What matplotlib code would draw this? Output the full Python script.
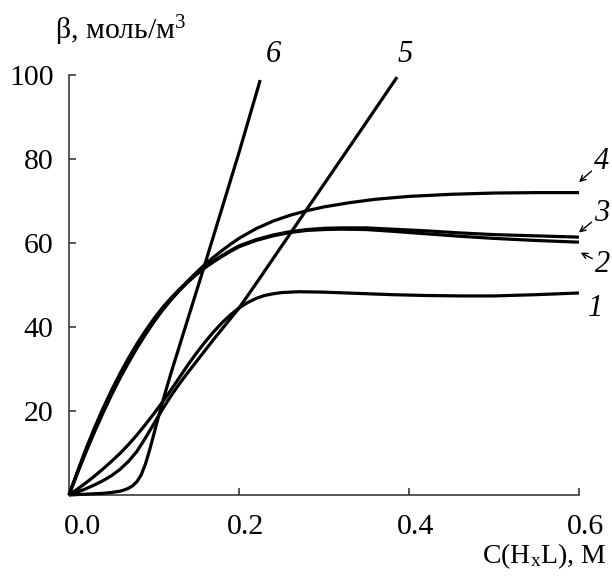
import matplotlib
matplotlib.use("Agg")
import matplotlib.pyplot as plt
from matplotlib.transforms import ScaledTranslation

plt.rcParams["font.family"] = ["Liberation Serif", "DejaVu Serif"]
plt.rcParams["mathtext.fontset"] = "custom"
plt.rcParams["mathtext.rm"] = "Liberation Serif"
plt.rcParams["mathtext.it"] = "Liberation Serif:italic"

# Ligand concentration, M, and beta, mol/m^3, for each curve
x1 = [0, 0.01, 0.02, 0.03, 0.04, 0.05, 0.06, 0.07, 0.08, 0.09, 0.10, 0.11,
      0.12, 0.13, 0.14, 0.15, 0.16, 0.17, 0.18, 0.19, 0.20, 0.21, 0.22, 0.23,
      0.24, 0.25, 0.27, 0.30, 0.34, 0.38, 0.42, 0.46, 0.50, 0.55, 0.60]
y1 = [0, 1.4, 2.9, 4.5, 6.2, 8.0, 9.9, 12.0, 14.3, 16.8, 19.4, 22.1,
      25.0, 28.0, 31.0, 33.8, 36.4, 38.8, 41.0, 42.9, 44.5, 45.8, 46.8, 47.5,
      47.9, 48.2, 48.4, 48.3, 48.0, 47.7, 47.5, 47.4, 47.4, 47.7, 48.1]

x2 = [0, 0.01, 0.02, 0.03, 0.04, 0.05, 0.06, 0.07, 0.08, 0.09, 0.10, 0.11,
      0.12, 0.13, 0.14, 0.15, 0.16, 0.17, 0.18, 0.19, 0.20, 0.22, 0.24, 0.26,
      0.28, 0.30, 0.32, 0.35, 0.38, 0.42, 0.46, 0.50, 0.55, 0.60]
y2 = [0, 5.4, 10.6, 15.5, 20.0, 24.3, 28.3, 32.0, 35.4, 38.6, 41.5, 44.1,
      46.5, 48.7, 50.7, 52.5, 54.1, 55.5, 56.8, 58.0, 59.1, 60.6, 61.7, 62.5,
      63.0, 63.2, 63.3, 63.2, 62.8, 62.2, 61.6, 61.1, 60.6, 60.2]

x3 = x2
y3 = [0, 5.6, 11.0, 16.0, 20.6, 24.9, 28.9, 32.6, 36.0, 39.1, 42.0, 44.6,
      46.9, 49.0, 50.9, 52.7, 54.3, 55.7, 57.0, 58.2, 59.3, 60.8, 61.9, 62.7,
      63.2, 63.5, 63.6, 63.6, 63.3, 62.9, 62.4, 62.0, 61.7, 61.4]

x4 = [0, 0.01, 0.02, 0.03, 0.04, 0.05, 0.06, 0.07, 0.08, 0.09, 0.10, 0.11,
      0.12, 0.13, 0.14, 0.15, 0.16, 0.17, 0.18, 0.19, 0.20, 0.22, 0.24, 0.26,
      0.28, 0.30, 0.33, 0.36, 0.40, 0.45, 0.50, 0.55, 0.60]
y4 = [0, 5.2, 10.2, 15.0, 19.5, 23.8, 27.8, 31.5, 35.0, 38.2, 41.2, 44.0,
      46.5, 48.8, 51.0, 53.0, 54.9, 56.6, 58.2, 59.7, 61.1, 63.4, 65.2, 66.6,
      67.7, 68.6, 69.6, 70.4, 71.1, 71.6, 71.9, 72.0, 72.0]

x5 = [0, 0.01, 0.02, 0.03, 0.04, 0.05, 0.06, 0.07, 0.08, 0.09, 0.10, 0.11,
      0.12, 0.13, 0.14, 0.15, 0.16, 0.17, 0.18, 0.19, 0.20, 0.21, 0.22, 0.25,
      0.30, 0.35, 0.386]
y5 = [0, 0.7, 1.5, 2.4, 3.4, 4.6, 6.1, 8.0, 10.4, 13.6, 17.0, 20.4,
      23.6, 26.5, 29.2, 31.8, 34.4, 37.0, 39.5, 42.0, 44.5, 47.4, 50.3, 59.2,
      74.0, 88.8, 99.5]

x6 = [0, 0.02, 0.04, 0.05, 0.06, 0.065, 0.07, 0.075, 0.08, 0.085, 0.09, 0.095,
      0.10, 0.105, 0.11, 0.12, 0.16, 0.20, 0.225]
y6 = [0, 0.2, 0.4, 0.6, 0.9, 1.2, 1.6, 2.2, 3.2, 4.8, 7.4, 10.8,
      14.6, 18.4, 22.1, 29.0, 55.0, 81.5, 98.8]

series = [(x1, y1), (x2, y2), (x3, y3), (x4, y4), (x5, y5), (x6, y6)]

x_ticks = [0.0, 0.2, 0.4, 0.6]
x_tick_labels = ["0.0", "0.2", "0.4", "0.6"]
y_ticks = [20, 40, 60, 80, 100]
y_tick_labels = ["20", "40", "60", "80", "100"]

fig = plt.figure(figsize=(6.12, 5.82), dpi=100)
ax = fig.add_axes([0.1127, 0.1495, 0.8333, 0.7216])

for xs, ys in series:
    ax.plot(xs, ys, color="black", lw=2.3, solid_capstyle="butt",
            solid_joinstyle="round", clip_on=False, zorder=3)

ax.set_xlim(0, 0.6)
ax.set_ylim(0, 100)
for side in ("top", "right"):
    ax.spines[side].set_visible(False)
for side in ("left", "bottom"):
    ax.spines[side].set_color("#3a3a3a")
    ax.spines[side].set_linewidth(1.2)

ax.set_xticks(x_ticks[1:])
ax.set_xticklabels([])
ax.set_yticks(y_ticks)
ax.set_yticklabels(y_tick_labels, fontsize=21.5)
ax.tick_params(axis="both", direction="in", length=5, width=1.2,
               color="#3a3a3a")
ax.tick_params(axis="y", pad=11)

# x tick labels drawn as text so each can sit slightly right of its tick
for xv, lab in zip(x_ticks, x_tick_labels):
    dx = 14 if xv == 0 else 7
    off = ScaledTranslation(dx / 100, 0, fig.dpi_scale_trans)
    ax.text(xv, -0.045, lab, transform=ax.get_xaxis_transform() + off,
            ha="center", va="top", fontsize=21.5)

fig.text(55 / 612, 1 - 39 / 582, "β, моль/м$^3$", fontsize=21.5, ha="left",
         va="baseline")
fig.text(606 / 612, 1 - 563 / 582, r"C(H$_\mathrm{x}$L), M", fontsize=20,
         ha="right", va="baseline")

lab_kw = dict(fontsize=22, style="italic", ha="center", va="center")
ax.text(0.240, 105, "6", clip_on=False, **lab_kw)
ax.text(0.396, 105, "5", clip_on=False, **lab_kw)
ax.text(0.619, 44.5, "1", clip_on=False, **lab_kw)

arrow = dict(arrowstyle="->", lw=1.0, color="black", shrinkA=0, shrinkB=0,
             mutation_scale=10)
ax.annotate("4", xy=(0.600, 74.5), xytext=(0.627, 79.3), fontsize=22,
            style="italic", ha="center", va="center", arrowprops=arrow,
            annotation_clip=False)
ax.annotate("3", xy=(0.600, 62.5), xytext=(0.627, 67.0), fontsize=22,
            style="italic", ha="center", va="center", arrowprops=arrow,
            annotation_clip=False)
ax.annotate("2", xy=(0.602, 57.7), xytext=(0.628, 55.0), fontsize=22,
            style="italic", ha="center", va="center", arrowprops=arrow,
            annotation_clip=False)

fig.savefig("out.png", dpi=100)
